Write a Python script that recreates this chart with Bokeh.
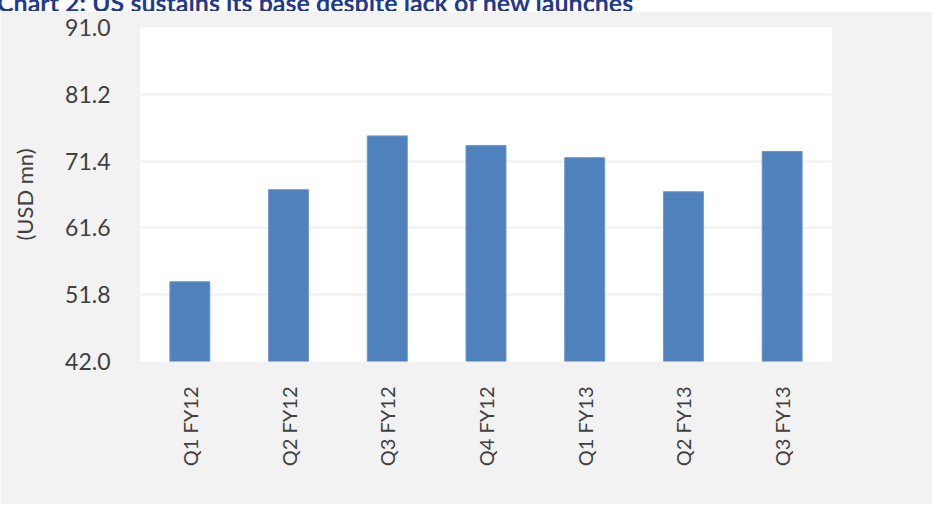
import math
from bokeh.plotting import figure
from bokeh.layouts import column
from bokeh.models import FixedTicker, NumeralTickFormatter, FactorRange, Range1d, Div
from bokeh.embed import file_html
from bokeh.resources import INLINE

# ---- data ----
title_text = "Chart 2: US sustains its base despite lack of new launches"
categories = ["Q1 FY12", "Q2 FY12", "Q3 FY12", "Q4 FY12", "Q1 FY13", "Q2 FY13", "Q3 FY13"]
revenue = [53.7, 67.2, 75.1, 73.7, 71.9, 66.9, 72.8]
y_ticks = [42.0, 51.8, 61.6, 71.4, 81.2, 91.0]
y_label = "(USD mn)"

Y_MIN, Y_MAX = y_ticks[0], y_ticks[-1]
W = 932
TITLE_H = 11
MAIN_H = 504 - TITLE_H

# ---- title strip (title partly cut off at the top, as in the original) ----
title = Div(
    text=('<div style="font-family: Lato; font-weight: bold; font-size: 25px; '
          'line-height: 30px; color: #1F3A8F; white-space: nowrap; '
          'margin-top: -19px; margin-left: -3px;">' + title_text + '</div>'),
    width=W, height=TITLE_H, margin=0,
    styles={"overflow": "hidden", "background-color": "#FFFFFF"},
)

# ---- main chart ----
p = figure(
    width=W, height=MAIN_H,
    x_range=FactorRange(*categories, range_padding=0),
    y_range=Range1d(Y_MIN, Y_MAX),
    output_backend="svg", toolbar_location=None,
    min_border_left=140, min_border_right=101,
    min_border_top=16, min_border_bottom=MAIN_H - 16 - 334,
)
p.border_fill_color = "#F2F2F2"
p.background_fill_color = "#FFFFFF"
p.outline_line_color = None

p.vbar(x=categories, top=revenue, bottom=Y_MIN, width=0.405,
       fill_color="#4F81BD", line_color="#6F97CC", line_width=1)

p.yaxis.ticker = FixedTicker(ticks=y_ticks)
p.yaxis.formatter = NumeralTickFormatter(format="0.0")
p.yaxis.axis_label = y_label
for ax in (p.xaxis[0], p.yaxis[0]):
    ax.axis_line_color = None
    ax.major_tick_line_color = None
    ax.minor_tick_line_color = None
    ax.major_label_text_color = "#404040"
    ax.major_label_text_font = "Lato"
p.yaxis.major_label_text_font_size = "23px"
p.yaxis.major_label_standoff = 24
p.yaxis.axis_label_text_font = "Lato"
p.yaxis.axis_label_text_font_style = "normal"
p.yaxis.axis_label_text_font_size = "22px"
p.yaxis.axis_label_text_color = "#404040"
p.yaxis.axis_label_standoff = 24

p.xaxis.major_label_orientation = math.pi / 2
p.xaxis.major_label_text_font_size = "20px"
p.xaxis.major_label_standoff = 19

p.xgrid.grid_line_color = None
p.ygrid.ticker = FixedTicker(ticks=y_ticks)
p.ygrid.grid_line_color = "#EFEFEF"
p.ygrid.grid_line_width = 2

layout = column(title, p, spacing=0)
open("out.html", "w").write(file_html(layout, INLINE))
